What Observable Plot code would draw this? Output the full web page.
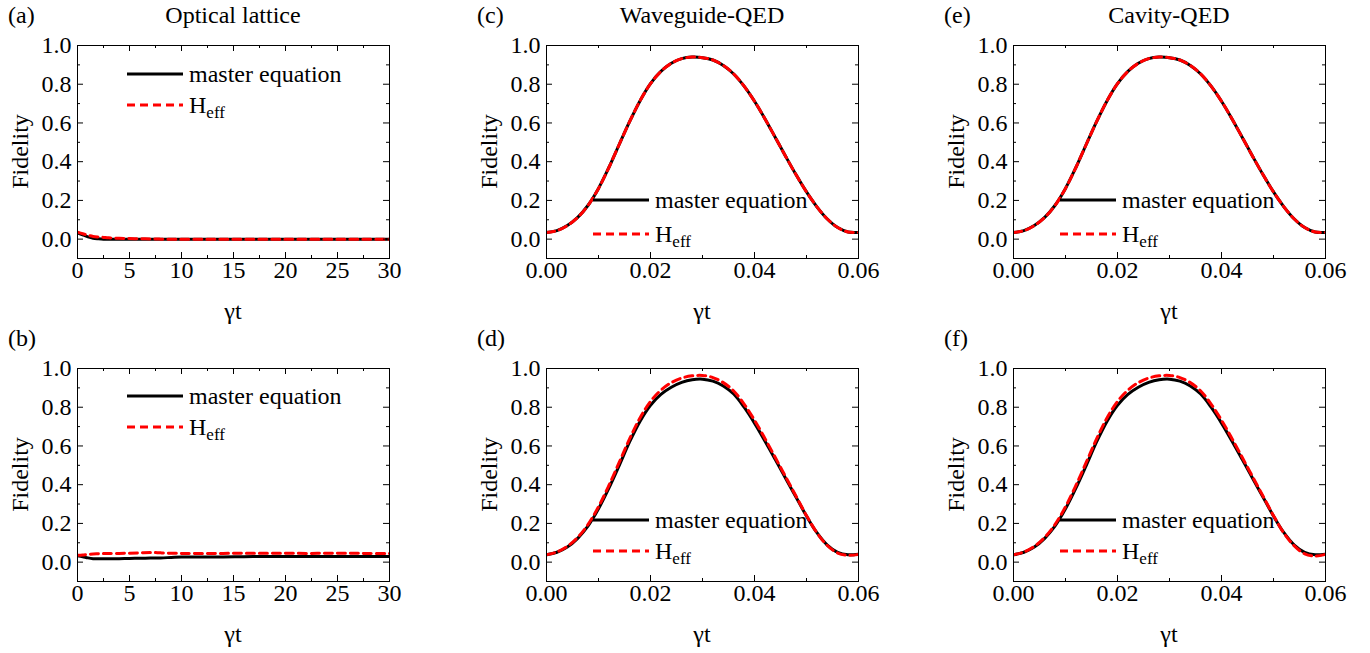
<!DOCTYPE html>
<html><head><meta charset="utf-8">
<script src="https://cdn.jsdelivr.net/npm/d3@7"></script>
<script src="https://cdn.jsdelivr.net/npm/@observablehq/plot@0.6"></script>
<style>
body{margin:0;background:#fff;overflow:hidden;}
#fig{position:relative;width:1370px;height:653px;font-family:"Liberation Serif","Times New Roman",serif;}
#fig svg{position:absolute;overflow:visible;}
</style></head><body><div id="fig"></div>
<script>
// ---------- data ----------
const panelLabels = ["(a)", "(b)", "(c)", "(d)", "(e)", "(f)"];
const panelTitles = ["Optical lattice", "", "Waveguide-QED", "", "Cavity-QED", ""];
const seriesNames = ["master equation", "H", "eff"];

const tLattice = [0, 0.5, 1, 1.5, 2, 2.5, 3, 4, 5, 6, 7, 8, 9, 10, 12, 14, 16, 18, 20, 22, 24, 26, 28, 30];
const latticeA_master = [0.033, 0.022, 0.012, 0.005, 0.002, 0.0, 0.0, 0.0, 0.0, 0.0, 0.0, 0.0, 0.0, 0.0, 0.0, 0.0, 0.0, 0.0, 0.0, 0.0, 0.0, 0.0, 0.0, 0.0];
const latticeA_heff   = [0.036, 0.028, 0.020, 0.014, 0.011, 0.009, 0.007, 0.004, 0.003, 0.002, 0.001, 0.0, 0.0, 0.0, 0.0, 0.0, 0.0, 0.0, 0.0, 0.0, 0.0, 0.0, 0.0, 0.0];
const latticeB_master = [0.033, 0.028, 0.022, 0.018, 0.017, 0.017, 0.017, 0.018, 0.019, 0.020, 0.021, 0.022, 0.024, 0.026, 0.027, 0.027, 0.028, 0.029, 0.029, 0.029, 0.029, 0.029, 0.029, 0.029];
const latticeB_heff   = [0.035, 0.037, 0.040, 0.042, 0.043, 0.044, 0.045, 0.045, 0.046, 0.048, 0.050, 0.048, 0.046, 0.045, 0.044, 0.045, 0.046, 0.046, 0.046, 0.045, 0.046, 0.046, 0.045, 0.045];

const tQED = [0, 0.002, 0.004, 0.006, 0.008, 0.010, 0.012, 0.014, 0.016, 0.018, 0.020, 0.022, 0.024, 0.026, 0.028, 0.030, 0.032, 0.034, 0.036, 0.038, 0.040, 0.042, 0.044, 0.046, 0.048, 0.050, 0.052, 0.054, 0.056, 0.058, 0.060];
const wgC_master = [0.034, 0.044, 0.070, 0.112, 0.175, 0.262, 0.370, 0.490, 0.608, 0.715, 0.803, 0.866, 0.908, 0.932, 0.940, 0.937, 0.925, 0.897, 0.853, 0.790, 0.712, 0.622, 0.525, 0.427, 0.332, 0.244, 0.167, 0.104, 0.060, 0.037, 0.035];
const wgC_heff   = [0.034, 0.044, 0.070, 0.112, 0.175, 0.262, 0.370, 0.490, 0.608, 0.715, 0.803, 0.866, 0.908, 0.932, 0.940, 0.937, 0.925, 0.897, 0.853, 0.790, 0.712, 0.622, 0.525, 0.427, 0.332, 0.244, 0.167, 0.104, 0.060, 0.037, 0.035];
const wgD_master = [0.038, 0.051, 0.078, 0.123, 0.187, 0.275, 0.382, 0.500, 0.622, 0.728, 0.810, 0.866, 0.903, 0.928, 0.942, 0.945, 0.935, 0.910, 0.868, 0.800, 0.718, 0.626, 0.530, 0.432, 0.335, 0.238, 0.152, 0.088, 0.050, 0.038, 0.041];
const wgD_heff   = [0.038, 0.052, 0.081, 0.128, 0.195, 0.286, 0.396, 0.516, 0.638, 0.746, 0.830, 0.888, 0.927, 0.951, 0.962, 0.964, 0.953, 0.927, 0.884, 0.816, 0.733, 0.639, 0.540, 0.440, 0.340, 0.240, 0.152, 0.086, 0.047, 0.035, 0.040];
const cavE_master = [0.034, 0.044, 0.070, 0.112, 0.175, 0.262, 0.370, 0.490, 0.608, 0.715, 0.803, 0.866, 0.908, 0.932, 0.940, 0.937, 0.925, 0.897, 0.853, 0.790, 0.712, 0.622, 0.525, 0.427, 0.332, 0.244, 0.167, 0.104, 0.060, 0.037, 0.035];
const cavE_heff   = [0.034, 0.044, 0.070, 0.112, 0.175, 0.262, 0.370, 0.490, 0.608, 0.715, 0.803, 0.866, 0.908, 0.932, 0.940, 0.937, 0.925, 0.897, 0.853, 0.790, 0.712, 0.622, 0.525, 0.427, 0.332, 0.244, 0.167, 0.104, 0.060, 0.037, 0.035];
const cavF_master = [0.038, 0.051, 0.078, 0.123, 0.187, 0.275, 0.382, 0.500, 0.622, 0.728, 0.810, 0.866, 0.903, 0.928, 0.942, 0.945, 0.935, 0.910, 0.868, 0.800, 0.718, 0.626, 0.530, 0.432, 0.335, 0.238, 0.152, 0.088, 0.050, 0.038, 0.041];
const cavF_heff   = [0.038, 0.052, 0.081, 0.128, 0.195, 0.286, 0.396, 0.516, 0.638, 0.746, 0.830, 0.888, 0.927, 0.951, 0.962, 0.964, 0.953, 0.927, 0.884, 0.816, 0.733, 0.639, 0.540, 0.440, 0.340, 0.240, 0.150, 0.084, 0.043, 0.031, 0.040];

const yTicks = [0, 0.2, 0.4, 0.6, 0.8, 1.0];
const yTickLabels = ["0.0", "0.2", "0.4", "0.6", "0.8", "1.0"];
const yMinor = [0.1, 0.3, 0.5, 0.7, 0.9];
const latticeTicks = [0, 5, 10, 15, 20, 25, 30];
const latticeTickLabels = ["0", "5", "10", "15", "20", "25", "30"];
const latticeMinor = [2.5, 7.5, 12.5, 17.5, 22.5, 27.5];
const qedTicks = [0, 0.02, 0.04, 0.06];
const qedTickLabels = ["0.00", "0.02", "0.04", "0.06"];
const qedMinor = [0.01, 0.03, 0.05];
const yLabel = "Fidelity";
const xLabel = "γt";

// ---------- layout ----------
const ML = 77, MT = 45, FW = 312, FH = 213, MR = 40, MB = 65;
const W = ML + FW + MR, H = MT + FH + MB;
const colLeft = [0, 469, 936], rowTop = [0, 323];
const FONT = "Liberation Serif";
const FS = 24;

const lattice = {t: tLattice, ticks: latticeTicks, labels: latticeTickLabels, minor: latticeMinor, domain: [0, 30]};
const qed = {t: tQED, ticks: qedTicks, labels: qedTickLabels, minor: qedMinor, domain: [0, 0.06]};
const panels = [
  {col: 0, row: 0, x: lattice, m: latticeA_master, h: latticeA_heff, leg: [29, 60, 50]},
  {col: 0, row: 1, x: lattice, m: latticeB_master, h: latticeB_heff, leg: [28, 59, 50]},
  {col: 1, row: 0, x: qed, m: wgC_master, h: wgC_heff, leg: [155, 189, 47]},
  {col: 1, row: 1, x: qed, m: wgD_master, h: wgD_heff, leg: [152, 183, 47]},
  {col: 2, row: 0, x: qed, m: cavE_master, h: cavE_heff, leg: [155, 189, 47]},
  {col: 2, row: 1, x: qed, m: cavF_master, h: cavF_heff, leg: [152, 183, 47]}
];

const fig = document.getElementById("fig");
panels.forEach((p, i) => {
  const master = p.x.t.map((t, j) => ({t, f: p.m[j]}));
  const heff = p.x.t.map((t, j) => ({t, f: p.h[j]}));
  const chart = Plot.plot({
    width: W, height: H,
    marginLeft: ML, marginTop: MT, marginRight: MR, marginBottom: MB,
    style: {fontFamily: FONT, fontSize: FS + "px", color: "#000", background: "transparent"},
    x: {domain: p.x.domain},
    y: {domain: [-0.1, 1.0]},
    marks: [
      Plot.line(master, {x: "t", y: "f", stroke: "#000", strokeWidth: 3, curve: "catmull-rom", clip: true}),
      Plot.line(heff, {x: "t", y: "f", stroke: "#ff0000", strokeWidth: 3, strokeDasharray: "8,5", curve: "catmull-rom", clip: true}),
      // inward ticks on all four sides
      Plot.ruleY(yTicks, {y: d => d, insetRight: FW - 6, stroke: "#000"}),
      Plot.ruleY(yTicks, {y: d => d, insetLeft: FW - 6, stroke: "#000"}),
      Plot.ruleY(yMinor, {y: d => d, insetRight: FW - 3, stroke: "#000"}),
      Plot.ruleY(yMinor, {y: d => d, insetLeft: FW - 3, stroke: "#000"}),
      Plot.ruleX(p.x.ticks, {x: d => d, insetTop: FH - 6, stroke: "#000"}),
      Plot.ruleX(p.x.ticks, {x: d => d, insetBottom: FH - 6, stroke: "#000"}),
      Plot.ruleX(p.x.minor, {x: d => d, insetTop: FH - 3, stroke: "#000"}),
      Plot.ruleX(p.x.minor, {x: d => d, insetBottom: FH - 3, stroke: "#000"}),
      Plot.frame({stroke: "#000", strokeWidth: 1}),
      Plot.axisY(yTicks, {tickSize: 0, tickPadding: 6, fontSize: FS, tickFormat: (d, j) => yTickLabels[j], label: null}),
      Plot.axisX(p.x.ticks, {tickSize: 0, tickPadding: 2, fontSize: FS, tickFormat: (d, j) => p.x.labels[j], label: null})
    ]
  });
  chart.style.left = (colLeft[p.col]) + "px";
  chart.style.top = (rowTop[p.row]) + "px";
  const svg = d3.select(chart);
  const g = svg.append("g").attr("font-family", FONT).attr("fill", "#000").attr("text-anchor", "start");
  // panel label and title
  g.append("text").attr("x", 8).attr("y", 23).attr("text-anchor", "start").attr("font-size", FS).text(panelLabels[i]);
  if (panelTitles[i]) g.append("text").attr("x", ML + FW / 2).attr("y", 23).attr("text-anchor", "middle").attr("font-size", FS).text(panelTitles[i]);
  // axis titles
  g.append("text").attr("transform", `translate(${ML - 57},${MT + FH / 2}) rotate(-90)`).attr("text-anchor", "middle").attr("dominant-baseline", "central").attr("font-size", FS).text(yLabel);
  g.append("text").attr("x", ML + FW / 2).attr("y", 311).attr("text-anchor", "middle").attr("dominant-baseline", "central").attr("font-size", FS).text(xLabel);
  // legend
  const [y1, y2, lx] = p.leg;
  const x0 = ML + lx, x1 = x0 + 56, tx = x1 + 6;
  g.append("line").attr("x1", x0).attr("x2", x1).attr("y1", MT + y1).attr("y2", MT + y1).attr("stroke", "#000").attr("stroke-width", 3);
  g.append("line").attr("x1", x0).attr("x2", x1).attr("y1", MT + y2).attr("y2", MT + y2).attr("stroke", "#ff0000").attr("stroke-width", 3).attr("stroke-dasharray", "8,5");
  g.append("text").attr("x", tx).attr("y", MT + y1).attr("text-anchor", "start").attr("dominant-baseline", "central").attr("font-size", FS).text(seriesNames[0]);
  const ht = g.append("text").attr("x", tx).attr("y", MT + y2).attr("text-anchor", "start").attr("dominant-baseline", "central").attr("font-size", FS);
  ht.append("tspan").text(seriesNames[1]);
  ht.append("tspan").attr("font-size", 17).attr("dy", 7).text(seriesNames[2]);
  fig.appendChild(chart);
});
</script></body></html>
